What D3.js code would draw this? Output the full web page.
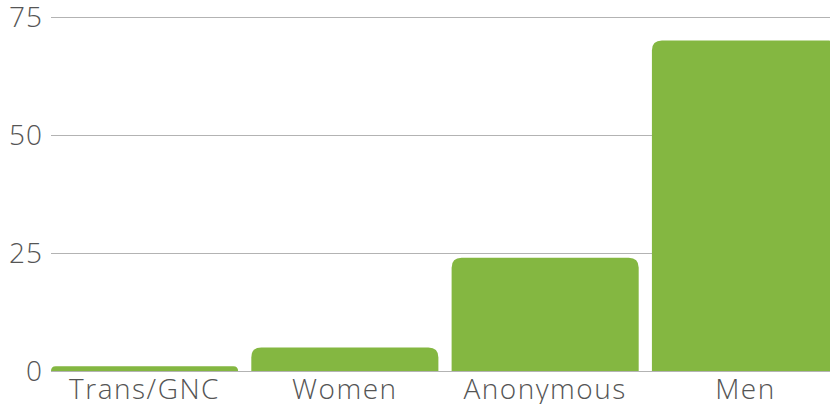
<!DOCTYPE html>
<html><head><meta charset="utf-8">
<script src="https://cdn.jsdelivr.net/npm/d3@7"></script>
<style>body{margin:0;background:#fff}svg{display:block}text{font-family:"Open Sans","Noto Sans",sans-serif;font-weight:300}</style>
</head><body>
<script>
const categories = ["Trans/GNC","Women","Anonymous","Men"];
const values = [1, 5, 24, 70];
const yTicks = [0, 25, 50, 75];

const W = 830, H = 404;
const svg = d3.select("body").append("svg").attr("width", W).attr("height", H);
const x = d3.scaleBand().domain(categories).range([51, 839]).paddingInner(0.066).paddingOuter(0);
const y = d3.scaleLinear().domain([0, 75]).range([371, 17]);

const grid = svg.append("g");
grid.selectAll("line").data(yTicks).join("line")
  .attr("x1", 51).attr("x2", W).attr("y1", d => y(d)+0.5).attr("y2", d => y(d)+0.5)
  .attr("stroke", "#b3b3b3").attr("stroke-width", 1);
svg.append("g").selectAll("text").data(yTicks).join("text")
  .attr("x", 43).attr("y", d => y(d)).attr("dy", "0.37em").attr("text-anchor", "end")
  .attr("font-size", 28).attr("letter-spacing", 1).attr("fill", "#555").text(d => d);

function barPath(x0, w, yTop, yBot) {
  const h = yBot - yTop;
  const r = Math.min(10, h, w/2);
  return `M${x0},${yBot}V${yTop+r}Q${x0},${yTop} ${x0+r},${yTop}H${x0+w-r}Q${x0+w},${yTop} ${x0+w},${yTop+r}V${yBot}Z`;
}
svg.append("g").selectAll("path").data(categories).join("path")
  .attr("d", (c, i) => barPath(x(c), x.bandwidth(), y(values[i]), y(0)))
  .attr("fill", "#84b741");

svg.append("g").selectAll("text").data(categories).join("text")
  .attr("x", c => x(c) + x.bandwidth()/2).attr("y", 399).attr("text-anchor", "middle")
  .attr("font-size", 28).attr("letter-spacing", 1.5).attr("fill", "#555").text(c => c);
</script>
</body></html>
